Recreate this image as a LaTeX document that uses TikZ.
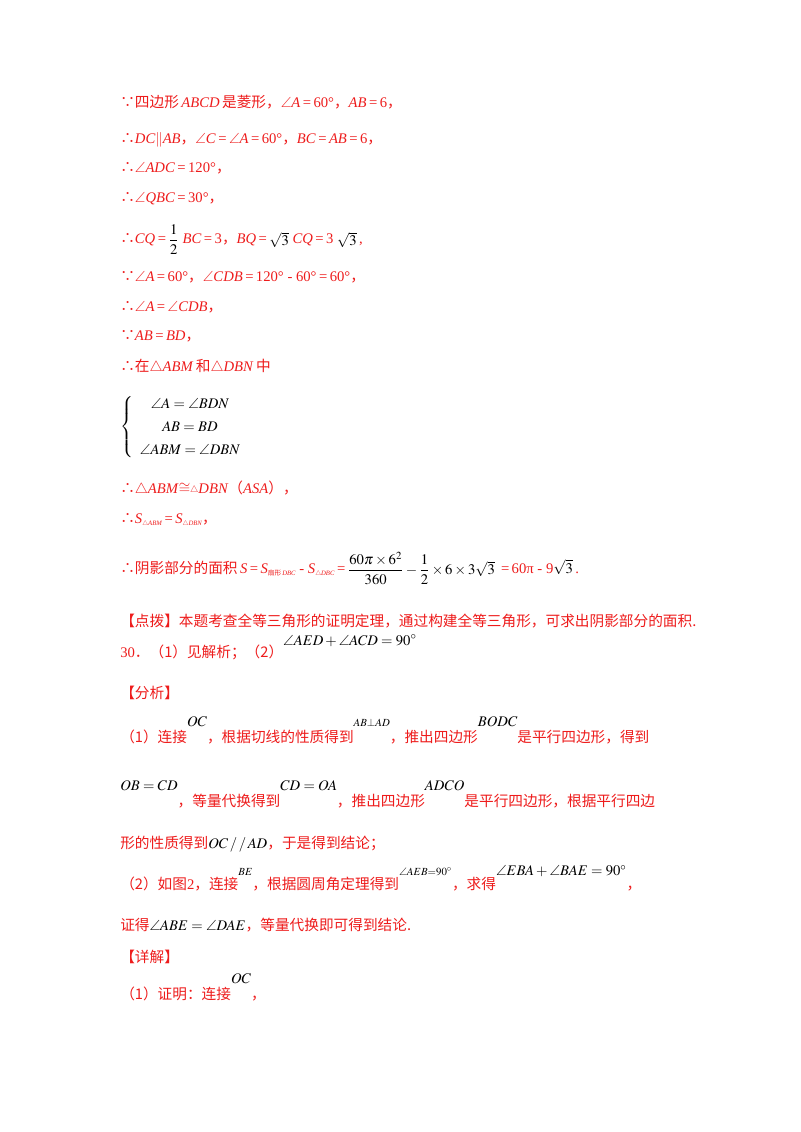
\documentclass[tikz,border=0pt]{standalone}
\usepackage{amsmath,amssymb}
\usepackage{mathptmx}
\usepackage[no-math]{fontspec}
\setmainfont{Liberation Serif}
\newfontfamily\cjk{Noto Sans CJK SC}
\newcommand{\C}[1]{{\cjk #1}}
\newcommand{\I}[1]{\textit{#1}}
\newcommand{\E}{\,=\,}
\newcommand{\K}[2]{\raisebox{#1}{\color{black}$#2$}}
\definecolor{tred}{HTML}{EE1C1C}
\tikzset{ln/.style={anchor=base west,inner sep=0pt,text=tred,font=\fontsize{11}{13}\selectfont}}
\begin{document}
\begin{tikzpicture}[x=0.75pt,y=-0.75pt]
\path[use as bounding box,fill=white] (0,0) rectangle (800,1132);
\node[ln] (l1) at (120,107) {\C{∵四边形}\,\I{ABCD}\,\C{是菱形，}$\angle$\I{A}\E60°\C{，}\I{AB}\E6\C{，}};
\node[ln] (l2) at (120,143) {\C{∴}\I{DC}$\|$\I{AB}\C{，}$\angle$\I{C}\E$\angle$\I{A}\E60°\C{，}\I{BC}\E\I{AB}\E6\C{，}};
\node[ln] (l3) at (120,172) {\C{∴}$\angle$\I{ADC}\E120°\C{，}};
\node[ln] (l4) at (120,202) {\C{∴}$\angle$\I{QBC}\E30°\C{，}};
\node[ln] (l5) at (120,243) {\C{∴}\I{CQ}\E\K{-1pt}{\dfrac{1}{2}} \I{BC}\E3\C{，}\I{BQ}\E\K{-2pt}{\sqrt3} \I{CQ}\E3 \K{-2pt}{\sqrt3}\,,};
\node[ln] (l6) at (120,281) {\C{∵}$\angle$\I{A}\E60°\C{，}$\angle$\I{CDB}\E120° - 60°\E60°\C{，}};
\node[ln] (l7) at (120,311) {\C{∴}$\angle$\I{A}\E$\angle$\I{CDB}\C{，}};
\node[ln] (l8) at (120,340) {\C{∵}\I{AB}\E\I{BD}\C{，}};
\node[ln] (l9) at (120,371) {\C{∴在}$\triangle$\I{ABM}\,\C{和}$\triangle$\I{DBN}\,\C{中}};
\node[ln,anchor=west,text=black] (sys) at (120,427) {\renewcommand{\arraystretch}{1.3}$\left\{\begin{array}{c}\angle A=\angle BDN\\ AB=BD\\ \angle ABM=\angle DBN\end{array}\right.$};
\node[ln] (l10) at (120,493) {\C{∴}$\triangle$\I{ABM}$\cong$\raisebox{0.5pt}{\scriptsize$\triangle$}\I{DBN}\C{（}\I{ASA}\C{），}};
\node[ln] (l11) at (120,523) {\C{∴}\I{S}{\tiny\raisebox{-2pt}{$\triangle$\I{ABM}}}\E\I{S}{\tiny\raisebox{-2pt}{$\triangle$\I{DBN}}}\C{，}};
\node[ln] (l12) at (120,573) {\C{∴阴影部分的面积}\,\I{S}\E\I{S}{\tiny\raisebox{-2pt}{\C{扇形}\,\I{DBC}}} - \I{S}{\tiny\raisebox{-2pt}{$\triangle$\I{DBC}}}\E\K{-1pt}{\dfrac{60\pi\times6^2}{360}-\dfrac12\times6\times3\sqrt3}\ \E60π - 9\K{0pt}{\sqrt3}\,.};
\node[ln] (l13) at (120,626) {\C{【点拨】本题考查全等三角形的证明定理，通过构建全等三角形，可求出阴影部分的面积.}};
\node[ln] (l14) at (120,657) {30\C{．（1）见解析；（2）}\K{9pt}{\angle AED+\angle ACD=90^{\circ}}};
\node[ln] (l15) at (120,698) {\C{【分析】}};
\node[ln] (l16) at (120,742) {\C{（1）连接}\K{12pt}{OC}\C{，根据切线的性质得到}\K{12pt}{\scriptstyle AB\perp AD}\C{，推出四边形}\K{12pt}{BODC}\C{是平行四边形，得到}};
\node[ln] (l17) at (120,806) {\K{12pt}{OB=CD}\C{，等量代换得到}\K{12pt}{CD=OA}\C{，推出四边形}\K{12pt}{ADCO}\C{是平行四边形，根据平行四边}};
\node[ln] (l18) at (120,848) {\C{形的性质得到}\K{0pt}{OC\,/\,/\,AD}\C{，于是得到结论；}};
\node[ln] (l19) at (120,889) {\C{（2）如图}2\C{，连接}\K{10pt}{\scriptstyle BE}\C{，根据圆周角定理得到}\K{10pt}{\scriptstyle\angle AEB=90^\circ}\C{，求得}\K{10pt}{\angle EBA+\angle BAE=90^\circ}\C{，}};
\node[ln] (l20) at (120,930) {\C{证得}\K{0pt}{\angle ABE=\angle DAE}\C{，等量代换即可得到结论.}};
\node[ln] (l21) at (120,962) {\C{【详解】}};
\node[ln] (l22) at (120,999) {\C{（1）证明：连接}\K{12pt}{OC}\C{，}};
\end{tikzpicture}
\end{document}
